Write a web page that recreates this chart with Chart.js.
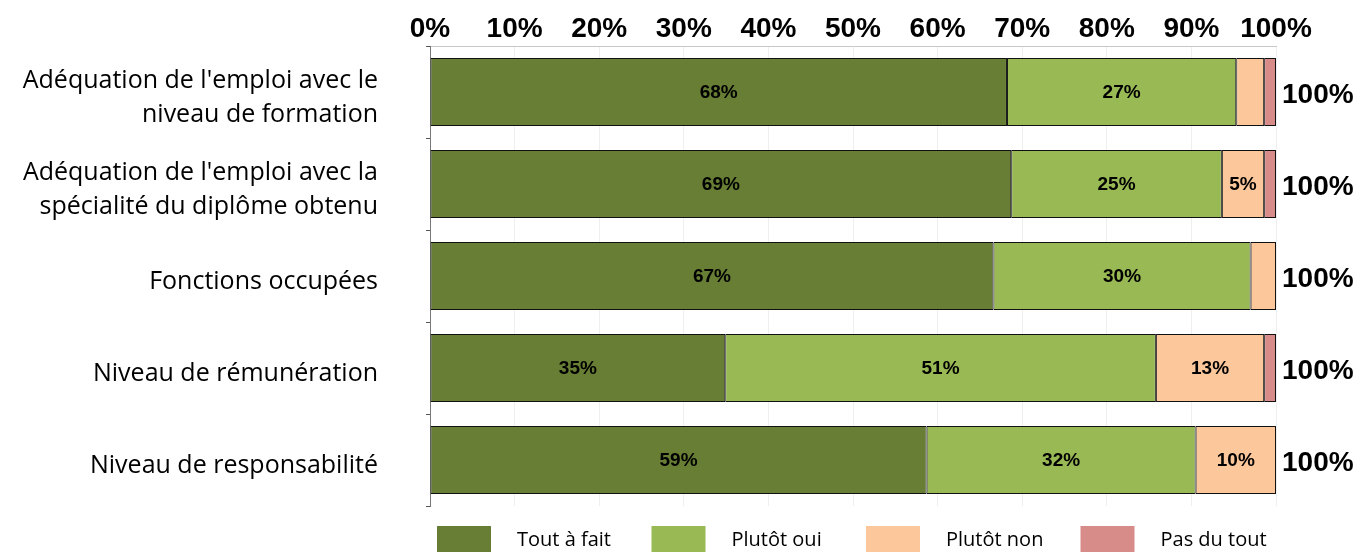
<!DOCTYPE html>
<html>
<head>
<meta charset="utf-8">
<script src="https://cdn.jsdelivr.net/npm/chart.js@4.4.1/dist/chart.umd.min.js"></script>
<style>
  html, body { margin: 0; padding: 0; background: #fff; }
  #wrap { width: 1360px; height: 552px; }
</style>
</head>
<body>
<div id="wrap"><canvas id="chartSatisfaction"></canvas></div>
<script>
// categories (multi-line labels as in the source)
const categorias = [
  ["Adéquation de l'emploi avec le", "niveau de formation"],
  ["Adéquation de l'emploi avec la", "spécialité du diplôme obtenu"],
  "Fonctions occupées",
  "Niveau de rémunération",
  "Niveau de responsabilité",
];

const series = ["Tout à fait", "Plutôt oui", "Plutôt non", "Pas du tout"];

// values in %
const toutAFait = [68.2, 68.7, 66.6, 34.9, 58.7];
const plutotOui = [27.1, 24.9, 30.4, 50.9, 31.8];
const plutotNon = [3.3, 5.0, 3.0, 12.8, 9.5];
const pasDuTout = [1.4, 1.4, 0, 1.4, 0];

const colores = ["#677e34", "#98b954", "#fbc79b", "#d78c8a"];

const tickLabels = ["0%", "10%", "20%", "30%", "40%", "50%", "60%", "70%", "80%", "90%", "100%"];

const valores = [toutAFait, plutotOui, plutotNon, pasDuTout];

/* etiquetas dentro de las barras + total a la derecha */
const etiquetasPlugin = {
  id: "etiquetas",
  afterDatasetsDraw(chart) {
    const ctx = chart.ctx;
    ctx.save();
    ctx.fillStyle = "#000";
    ctx.textBaseline = "middle";
    ctx.textAlign = "center";
    ctx.font = "bold 19px 'Liberation Sans', Arial, sans-serif";
    chart.data.datasets.forEach((ds, i) => {
      const meta = chart.getDatasetMeta(i);
      meta.data.forEach((bar, j) => {
        const v = ds.data[j];
        if (v >= 4.5) {
          const cx = (bar.x + bar.base) / 2;
          ctx.fillText(Math.round(v) + "%", cx, bar.y + 1);
        }
      });
    });
    // totales
    ctx.textAlign = "left";
    ctx.font = "bold 28px 'Liberation Sans', Arial, sans-serif";
    const meta0 = chart.getDatasetMeta(0);
    categorias.forEach((c, j) => {
      let total = 0;
      valores.forEach((arr) => (total += arr[j]));
      ctx.fillText(Math.round(total) + "%", chart.chartArea.right + 6, meta0.data[j].y + 3);
    });
    ctx.restore();
  },
};

/* leyenda abajo con separación fija */
const leyendaPlugin = {
  id: "leyenda",
  afterDraw(chart) {
    const ctx = chart.ctx;
    const left = chart.chartArea.left + 7;
    const y = 526;
    ctx.save();
    ctx.font = "20px 'Open Sans', sans-serif";
    ctx.textBaseline = "middle";
    ctx.textAlign = "left";
    series.forEach((s, i) => {
      const x = left + i * 214.5;
      ctx.fillStyle = colores[i];
      ctx.fillRect(x, y, 54, 26);
      ctx.fillStyle = "#000";
      ctx.fillText(s, x + 80, y + 14);
    });
    ctx.restore();
  },
};

const canvas = document.getElementById("chartSatisfaction");
const context = canvas.getContext("2d");

const chartSatisfaction = new Chart(context, {
  type: "bar",
  data: {
    labels: categorias,
    datasets: series.map((s, i) => ({
      label: s,
      data: valores[i],
      backgroundColor: colores[i],
      borderColor: "#111",
      borderWidth: 1,
      borderSkipped: false,
      categoryPercentage: 1,
      barPercentage: 0.74,
    })),
  },
  options: {
    indexAxis: "y",
    responsive: true,
    maintainAspectRatio: false,
    animation: false,
    layout: {
      padding: { left: 0, right: 84, top: 0, bottom: 46 },
    },
    plugins: {
      legend: { display: false },
      tooltip: { enabled: false },
    },
    scales: {
      x: {
        position: "top",
        stacked: true,
        min: 0,
        max: 100,
        afterFit: (scale) => {
          scale.height = 46;
        },
        afterBuildTicks: (scale) => {
          scale.ticks = tickLabels.map((t, i) => ({ value: i * 10 }));
        },
        ticks: {
          callback: (v, i) => tickLabels[i],
          color: "#000",
          font: { family: "'Liberation Sans', Arial, sans-serif", size: 28, weight: "bold" },
          padding: 0,
          maxRotation: 0,
        },
        grid: {
          color: "#efefef",
          drawTicks: false,
        },
        border: { color: "#c8c8c8" },
      },
      y: {
        stacked: true,
        afterFit: (scale) => {
          scale.width = 430;
          scale.paddingTop = 0;
          scale.paddingBottom = 0;
        },
        ticks: {
          color: "#000",
          font: { family: "'Open Sans', sans-serif", size: 25, lineHeight: 1.36 },
          padding: 48,
          labelOffset: 6,
          crossAlign: "near",
        },
        grid: {
          offset: true,
          drawOnChartArea: false,
          tickLength: 4,
          color: "#555",
        },
        border: { color: "#777" },
      },
    },
  },
  plugins: [etiquetasPlugin, leyendaPlugin],
});
</script>
</body>
</html>
